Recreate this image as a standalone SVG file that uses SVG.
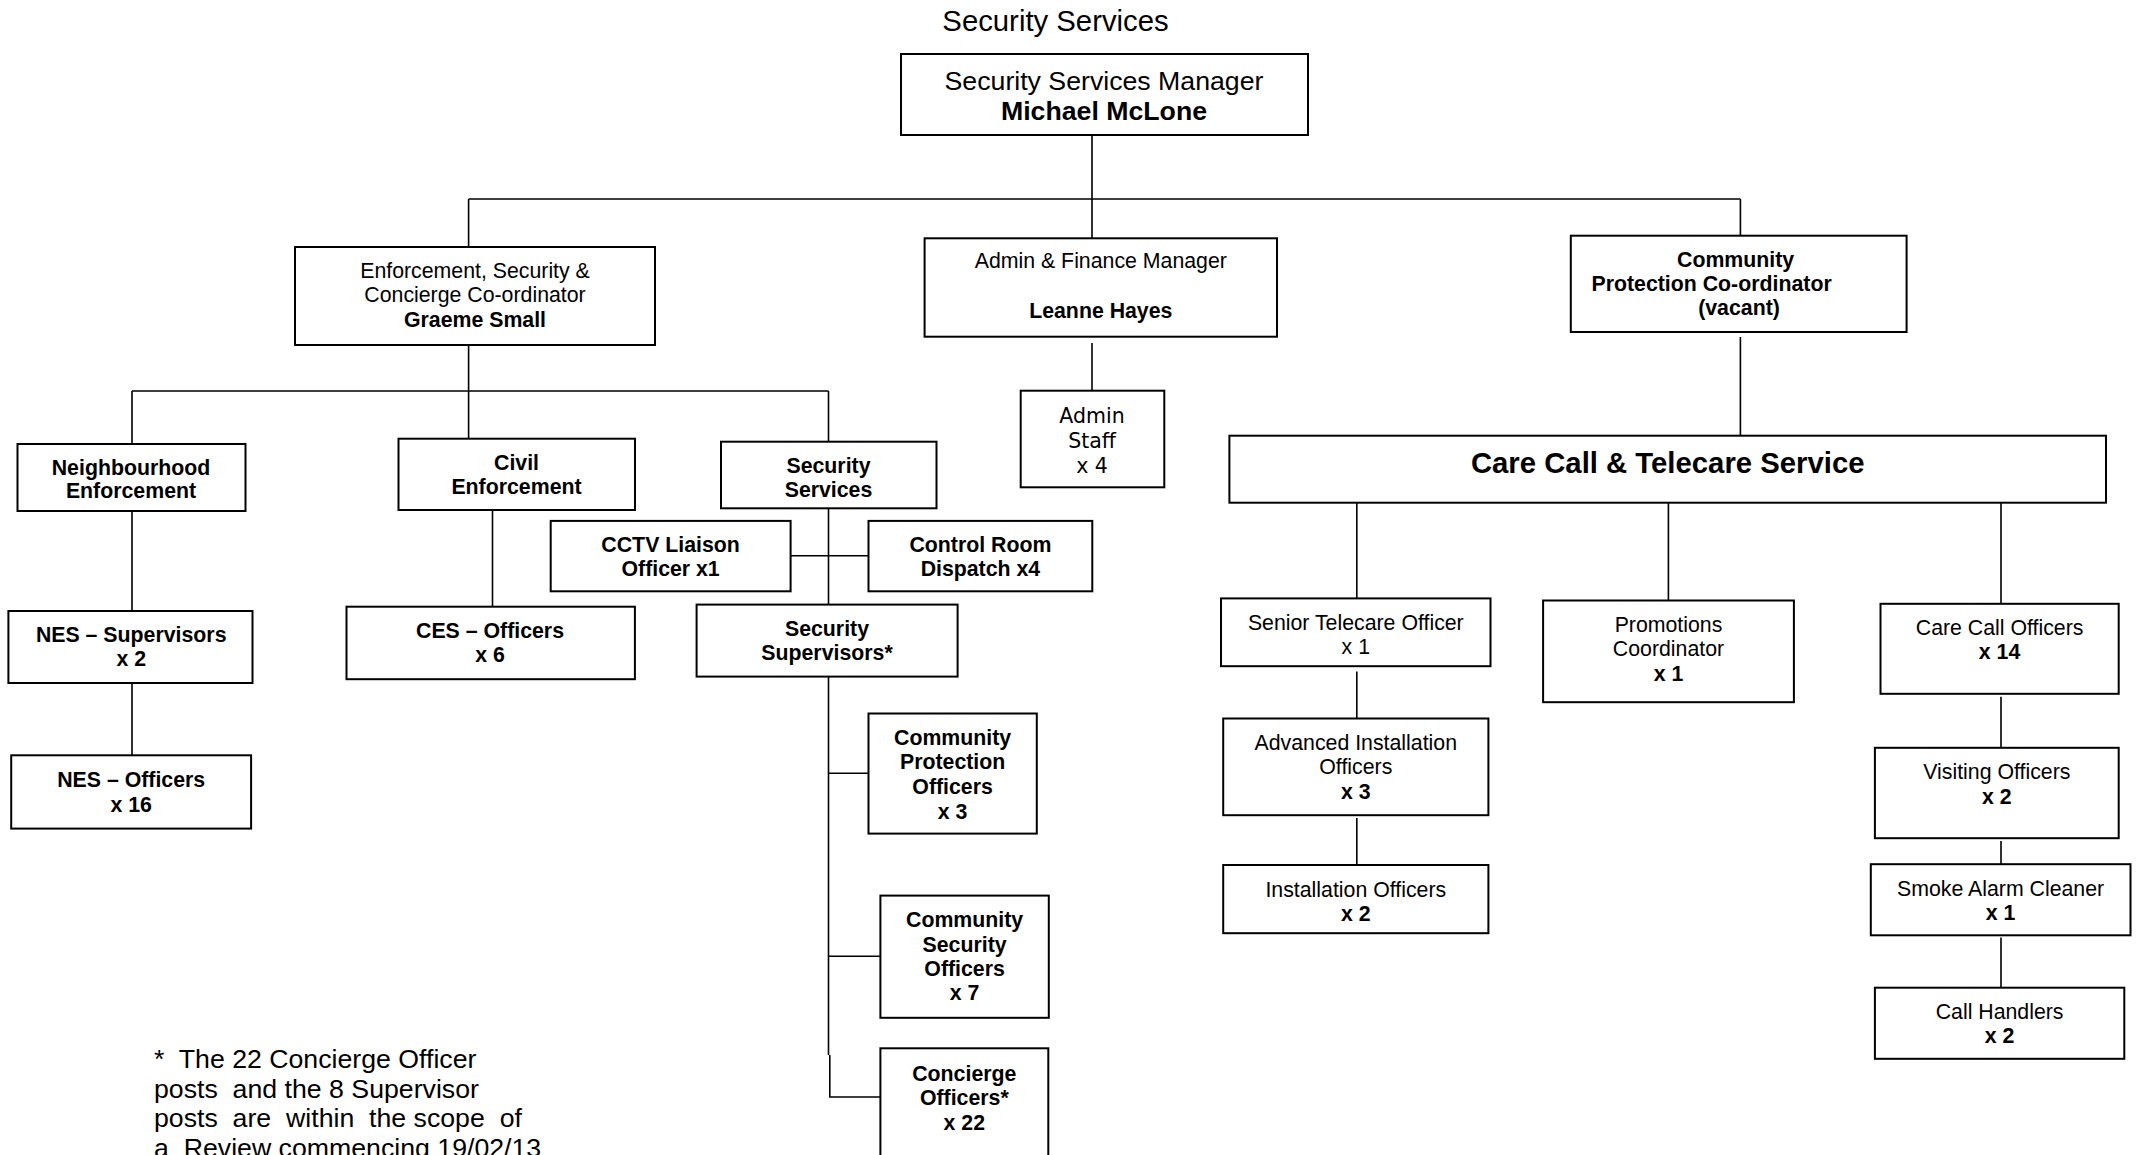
<svg xmlns="http://www.w3.org/2000/svg" width="2136" height="1155" viewBox="0 0 2136 1155">
<style>
text{font-family:"Liberation Sans",Arial,sans-serif;fill:#000;text-anchor:middle}
.r{font-size:21.3px}
.b{font-size:21.3px;font-weight:bold}
.d{font-family:"DejaVu Sans",sans-serif;font-size:20.5px}
.box{fill:#fff;stroke:#000;stroke-width:2}
.c{fill:none;stroke:#000;stroke-width:1.6}
.fn{font-size:26.7px;text-anchor:start;white-space:pre}
</style>
<rect width="2136" height="1155" fill="#fff"/>
<text x="1055.5" y="31" style="font-size:29.3px">Security Services</text>
<g id="connectors">
<path class="c" d="M1092 135V199M468.6 199H1740.4M468.6 199V247M1092 199V238M1740.4 199V236"/>
<path class="c" d="M468.6 343V391M132 391H828.5M132 391V444M468.6 391V439M828.5 391V442"/>
<path class="c" d="M1092 343V391"/>
<path class="c" d="M1740.4 337V436"/>
<path class="c" d="M1356.8 503V598.4M1668.4 503V600.5M2001 503V603.8"/>
<path class="c" d="M1356.8 671.6V718.5M1356.8 818V865"/>
<path class="c" d="M2001 696.7V747.8M2001 841V864.2M2001 937.4V987.7"/>
<path class="c" d="M132 511.7V611M132 683V755.3"/>
<path class="c" d="M492.5 510V606.7"/>
<path class="c" d="M828.5 508.3V604.6M790.6 555.7H868.5M828.5 676.6V1055M829.8 1055V1097H880.4M828.5 773.3H868.5M828.5 956.3H880.4"/>
</g>
<g id="manager">
<rect class="box" x="901" y="54" width="407" height="81"/>
<text x="1104" y="90" style="font-size:26.7px">Security Services Manager</text>
<text x="1104" y="120" style="font-size:26.7px;font-weight:bold">Michael McLone</text>
</g>
<g id="enforcement-coordinator">
<rect class="box" x="295" y="247" width="360" height="98"/>
<text class="r" x="475" y="277.7">Enforcement, Security &amp;</text>
<text class="r" x="475" y="301.7">Concierge Co-ordinator</text>
<text class="b" x="475" y="326.7">Graeme Small</text>
</g>
<g id="admin-finance">
<rect class="box" x="924.6" y="238.3" width="352.4" height="98.4"/>
<text class="r" x="1100.8" y="268">Admin &amp; Finance Manager</text>
<text class="b" x="1100.8" y="318">Leanne Hayes</text>
</g>
<g id="admin-staff">
<rect class="box" x="1020.7" y="390.7" width="143.6" height="96.6"/>
<text class="d" x="1092" y="423">Admin</text>
<text class="d" x="1092" y="448">Staff</text>
<text class="d" x="1092" y="473">x 4</text>
</g>
<g id="community-coordinator">
<rect class="box" x="1570.8" y="235.7" width="335.8" height="96.3"/>
<text class="b" x="1735.6" y="266.7">Community</text>
<text class="b" x="1591.5" y="290.7" style="text-anchor:start">Protection Co-ordinator</text>
<text class="b" x="1739" y="315">(vacant)</text>
</g>
<g id="care-call-service">
<rect class="box" x="1229.4" y="435.7" width="876.6" height="67"/>
<text x="1667.7" y="473.3" style="font-size:29.3px;font-weight:bold">Care Call &amp; Telecare Service</text>
</g>
<g id="neighbourhood">
<rect class="box" x="17.5" y="444" width="228" height="67"/>
<text class="b" x="131" y="475">Neighbourhood</text>
<text class="b" x="131" y="498">Enforcement</text>
</g>
<g id="civil">
<rect class="box" x="398.5" y="438.7" width="236.5" height="71.3"/>
<text class="b" x="516.5" y="470">Civil</text>
<text class="b" x="516.5" y="494">Enforcement</text>
</g>
<g id="security-services">
<rect class="box" x="721" y="441.7" width="215.5" height="66.6"/>
<text class="b" x="828.5" y="473">Security</text>
<text class="b" x="828.5" y="496.5">Services</text>
</g>
<g id="nes-supervisors">
<rect class="box" x="8.4" y="611" width="244.1" height="72"/>
<text class="b" x="131.2" y="642.3">NES – Supervisors</text>
<text class="b" x="131.2" y="666.2">x 2</text>
</g>
<g id="nes-officers">
<rect class="box" x="11.2" y="755.3" width="239.9" height="73.3"/>
<text class="b" x="131.2" y="786.7">NES – Officers</text>
<text class="b" x="131.2" y="811.8">x 16</text>
</g>
<g id="ces-officers">
<rect class="box" x="346.5" y="606.7" width="288.4" height="72.5"/>
<text class="b" x="490" y="638.1">CES – Officers</text>
<text class="b" x="490" y="662">x 6</text>
</g>
<g id="cctv">
<rect class="box" x="550.7" y="520.9" width="239.9" height="70.4"/>
<text class="b" x="670.6" y="552.3">CCTV Liaison</text>
<text class="b" x="670.6" y="576.2">Officer x1</text>
</g>
<g id="control-room">
<rect class="box" x="868.5" y="520.9" width="223.8" height="70.4"/>
<text class="b" x="980.4" y="552.3">Control Room</text>
<text class="b" x="980.4" y="576.2">Dispatch x4</text>
</g>
<g id="security-supervisors">
<rect class="box" x="696.6" y="604.6" width="261" height="72"/>
<text class="b" x="827" y="636">Security</text>
<text class="b" x="827" y="659.9">Supervisors*</text>
</g>
<g id="community-protection-officers">
<rect class="box" x="868.5" y="713.5" width="168.3" height="120.1"/>
<text class="b" x="952.6" y="744.9">Community</text>
<text class="b" x="952.6" y="769.1">Protection</text>
<text class="b" x="952.6" y="793.8">Officers</text>
<text class="b" x="952.6" y="819">x 3</text>
</g>
<g id="community-security-officers">
<rect class="box" x="880.4" y="895.6" width="168.4" height="122.2"/>
<text class="b" x="964.6" y="927">Community</text>
<text class="b" x="964.6" y="952">Security</text>
<text class="b" x="964.6" y="975.9">Officers</text>
<text class="b" x="964.6" y="1000.2">x 7</text>
</g>
<g id="concierge-officers">
<rect class="box" x="880.4" y="1048.3" width="167.9" height="130"/>
<text class="b" x="964.3" y="1080.6">Concierge</text>
<text class="b" x="964.3" y="1104.9">Officers*</text>
<text class="b" x="964.3" y="1130">x 22</text>
</g>
<g id="senior-telecare">
<rect class="box" x="1221" y="598.4" width="269.5" height="67.8"/>
<text class="r" x="1355.8" y="629.8">Senior Telecare Officer</text>
<text class="r" x="1355.8" y="654">x 1</text>
</g>
<g id="advanced-installation">
<rect class="box" x="1223.2" y="718.5" width="265.2" height="96.7"/>
<text class="r" x="1355.8" y="750.3">Advanced Installation</text>
<text class="r" x="1355.8" y="774.2">Officers</text>
<text class="b" x="1355.8" y="799.3">x 3</text>
</g>
<g id="installation-officers">
<rect class="box" x="1223.2" y="865" width="265.2" height="68.2"/>
<text class="r" x="1355.8" y="896.8">Installation Officers</text>
<text class="b" x="1355.8" y="920.7">x 2</text>
</g>
<g id="promotions">
<rect class="box" x="1543.1" y="600.5" width="250.8" height="101.7"/>
<text class="r" x="1668.5" y="631.9">Promotions</text>
<text class="r" x="1668.5" y="656.1">Coordinator</text>
<text class="b" x="1668.5" y="680.8">x 1</text>
</g>
<g id="care-call-officers">
<rect class="box" x="1880.5" y="603.8" width="238.2" height="90"/>
<text class="r" x="1999.6" y="634.8">Care Call Officers</text>
<text class="b" x="1999.6" y="659">x 14</text>
</g>
<g id="visiting-officers">
<rect class="box" x="1874.9" y="747.8" width="243.8" height="90.4"/>
<text class="r" x="1996.8" y="779.2">Visiting Officers</text>
<text class="b" x="1996.8" y="803.5">x 2</text>
</g>
<g id="smoke-alarm">
<rect class="box" x="1870.8" y="864.2" width="259.7" height="71.1"/>
<text class="r" x="2000.6" y="895.6">Smoke Alarm Cleaner</text>
<text class="b" x="2000.6" y="919.8">x 1</text>
</g>
<g id="call-handlers">
<rect class="box" x="1874.9" y="987.7" width="249.4" height="71.1"/>
<text class="r" x="1999.6" y="1019">Call Handlers</text>
<text class="b" x="1999.6" y="1043.3">x 2</text>
</g>
<g id="footnote">
<text class="fn" x="154" y="1068.3">*  The 22 Concierge Officer</text>
<text class="fn" x="154" y="1097.8">posts  and the 8 Supervisor</text>
<text class="fn" x="154" y="1127.2">posts  are  within  the scope  of</text>
<text class="fn" x="154" y="1156.6">a  Review commencing 19/02/13</text>
</g>
</svg>
